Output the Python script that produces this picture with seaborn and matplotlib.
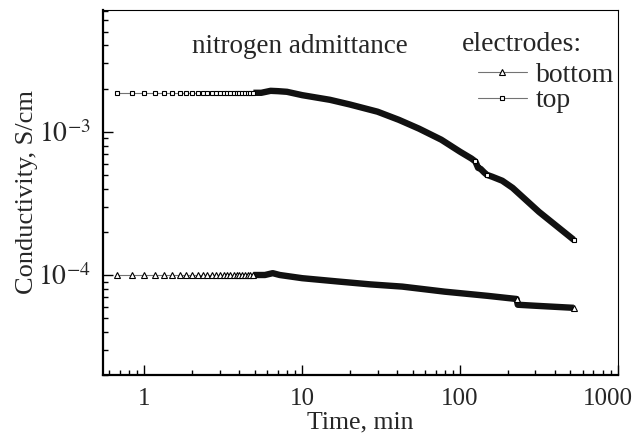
import numpy as np
import pandas as pd
import matplotlib
matplotlib.use("Agg")
import matplotlib.pyplot as plt
import matplotlib.transforms as mtransforms
import seaborn as sns
from matplotlib.lines import Line2D
from matplotlib.ticker import LogLocator, NullFormatter

# early, sparsely sampled readings (min) - same times for both electrodes
t_sparse = [0.67, 0.84, 1.0, 1.17, 1.34, 1.5, 1.67, 1.84, 2.0, 2.17, 2.34,
            2.5, 2.67, 2.84, 3.0, 3.17, 3.34, 3.5, 3.67, 3.84, 4.0, 4.17,
            4.34, 4.5, 4.67, 4.84]
top_sparse = [1.87e-3, 1.87e-3, 1.87e-3, 1.87e-3, 1.87e-3, 1.87e-3, 1.87e-3,
              1.87e-3, 1.87e-3, 1.87e-3, 1.87e-3, 1.87e-3, 1.87e-3, 1.87e-3,
              1.87e-3, 1.87e-3, 1.87e-3, 1.87e-3, 1.87e-3, 1.87e-3, 1.87e-3,
              1.87e-3, 1.87e-3, 1.87e-3, 1.87e-3, 1.87e-3]
bot_sparse = [1.0e-4, 1.0e-4, 1.0e-4, 1.0e-4, 1.0e-4, 1.0e-4, 1.0e-4,
              1.0e-4, 1.0e-4, 1.0e-4, 1.0e-4, 1.0e-4, 1.0e-4, 1.0e-4,
              1.0e-4, 1.0e-4, 1.0e-4, 1.0e-4, 1.0e-4, 1.0e-4, 1.0e-4,
              1.0e-4, 1.0e-4, 1.0e-4, 1.0e-4, 1.0e-4]

# densely sampled part (reads as a thick band)
t_top = [4.9, 5.5, 6.3, 7.0, 8.0, 10, 15, 20, 30, 41, 55, 76, 100, 118, 125,
         130, 135, 142, 148, 160, 185, 215, 316, 525]
v_top = [1.87e-3, 1.87e-3, 1.93e-3, 1.92e-3, 1.90e-3, 1.80e-3, 1.67e-3,
         1.55e-3, 1.38e-3, 1.21e-3, 1.05e-3, 8.8e-4, 7.25e-4, 6.5e-4, 6.2e-4,
         5.6e-4, 5.5e-4, 5.2e-4, 5.0e-4, 4.85e-4, 4.55e-4, 4.06e-4, 2.76e-4,
         1.76e-4]
t_bot = [4.9, 5.8, 6.5, 7.2, 10, 17, 27, 43, 80, 150, 228, 232, 300, 525]
v_bot = [1.0e-4, 1.0e-4, 1.03e-4, 1.0e-4, 9.5e-5, 9.0e-5, 8.6e-5, 8.3e-5,
         7.65e-5, 7.15e-5, 6.8e-5, 6.2e-5, 6.1e-5, 5.9e-5]

sns.set_style("ticks")
plt.rcParams["font.family"] = ["Liberation Serif", "DejaVu Serif"]
plt.rcParams["mathtext.fontset"] = "stix"
plt.rcParams["font.size"] = 19

fig = plt.figure(figsize=(6.41, 4.45), dpi=100)
ax = fig.add_axes([0.161, 0.157, 0.803, 0.821])

sparse = pd.DataFrame({"t": t_sparse, "top": top_sparse, "bottom": bot_sparse})
dense_top = pd.DataFrame({"t": t_top, "v": v_top})
dense_bot = pd.DataFrame({"t": t_bot, "v": v_bot})

# thick bands of overlapping markers
sns.lineplot(data=dense_top, x="t", y="v", ax=ax, color="#111111", lw=4.6,
             solid_capstyle="butt", solid_joinstyle="round")
sns.lineplot(data=dense_bot, x="t", y="v", ax=ax, color="#111111", lw=4.6,
             solid_capstyle="butt", solid_joinstyle="round")

mk = dict(markerfacecolor="white", markeredgecolor="black", markeredgewidth=0.8)
sns.lineplot(data=sparse, x="t", y="top", ax=ax, color="0.45", lw=0.8,
             marker="s", markersize=3.5, **mk)
sns.lineplot(data=sparse, x="t", y="bottom", ax=ax, color="0.45", lw=0.8,
             marker="^", markersize=3.8, **mk)

# individual markers visible at jumps and ends of the bands
ax.plot([t_top[14], t_top[18], t_top[-1]], [v_top[14], v_top[18], v_top[-1]],
        ls="none", marker="s", markersize=3.5, **mk)
ax.plot([t_bot[10], t_bot[-1]], [v_bot[10], v_bot[-1]],
        ls="none", marker="^", markersize=3.8, **mk)

ax.set_xscale("log")
ax.set_yscale("log")
ax.set_xlim(0.548, 1000)
ax.set_ylim(2.0e-5, 7.1e-3)
ax.set_xticks([1, 10, 100, 1000])
ax.set_xticklabels(["1", "10", "100", "1000"])
ax.xaxis.set_minor_locator(LogLocator(base=10, subs=np.arange(2, 10)))
ax.xaxis.set_minor_formatter(NullFormatter())
ax.set_yticks([1e-4, 1e-3])
ax.set_yticklabels([r"$10^{-4}$", r"$10^{-3}$"])
ax.yaxis.set_minor_locator(LogLocator(base=10, subs=np.arange(2, 10)))
ax.yaxis.set_minor_formatter(NullFormatter())

ax.tick_params(which="both", direction="in", top=False, right=False,
               color="black", width=1)
ax.tick_params(axis="x", which="major", length=7, pad=9, labelsize=18)
ax.tick_params(axis="y", which="major", length=7, pad=9, labelsize=20)
ax.tick_params(which="minor", length=3.5)
for side in ["left", "bottom"]:
    ax.spines[side].set_linewidth(1.6)
for side in ["top", "right"]:
    ax.spines[side].set_linewidth(0.8)
for s in ax.spines.values():
    s.set_color("black")

# the last tick label sits a little left of its tick, as in the original
lbl = ax.get_xticklabels()[-1]
lbl.set_transform(lbl.get_transform() +
                  mtransforms.ScaledTranslation(-10 / 100, 0, fig.dpi_scale_trans))

ax.set_xlabel("Time, min", fontsize=18.5, labelpad=1)
ax.set_ylabel("Conductivity, S/cm", fontsize=19, labelpad=0)

ax.text(0.383, 0.899, "nitrogen admittance", transform=ax.transAxes,
        ha="center", va="center", fontsize=19.5)
ax.text(0.697, 0.904, "electrodes:", transform=ax.transAxes,
        ha="left", va="center", fontsize=20)

handles = [
    Line2D([], [], color="0.45", lw=0.8, marker="^", markersize=3.8, **mk),
    Line2D([], [], color="0.45", lw=0.8, marker="s", markersize=3.5, **mk),
]
leg = ax.legend(handles, ["bottom", "top"], loc="upper left",
                bbox_to_anchor=(0.728, 0.856), frameon=False,
                fontsize=20, handlelength=1.75, handletextpad=0.33,
                labelspacing=0.0, borderpad=0, borderaxespad=0)

fig.savefig("out.png", dpi=100)
